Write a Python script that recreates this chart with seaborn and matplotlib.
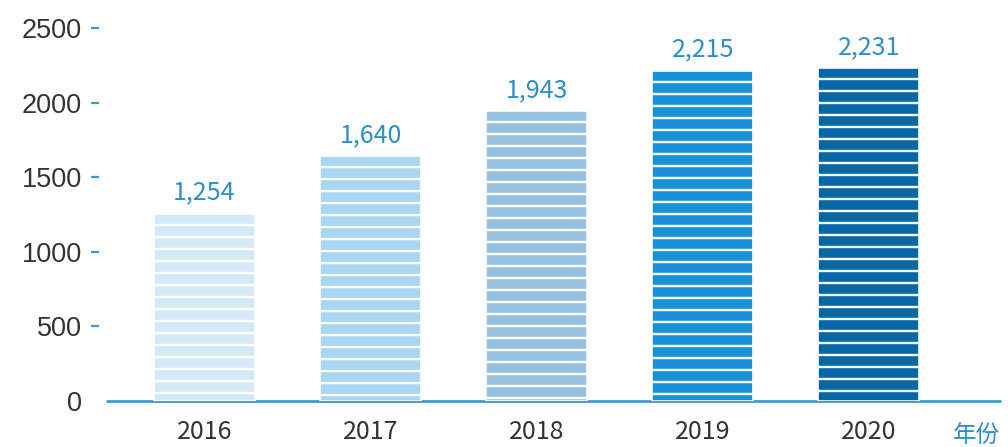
import pandas as pd
import matplotlib.pyplot as plt
import seaborn as sns

years = ["2016", "2017", "2018", "2019", "2020"]
values = [1254, 1640, 1943, 2215, 2231]
value_labels = ["1,254", "1,640", "1,943", "2,215", "2,231"]
bar_colors = ["#d5eaf8", "#a9d6f3", "#97c3e0", "#1790d7", "#0668a7"]
y_ticks = [0, 500, 1000, 1500, 2000, 2500]

df = pd.DataFrame({"year": years, "value": values})

sns.set_theme(style="white")
plt.rcParams["font.family"] = ["Noto Sans CJK SC", "DejaVu Sans"]

blue = "#3d9bd1"
label_blue = "#2c8fca"

fig = plt.figure(figsize=(10.08, 4.47), dpi=100)
ax = fig.add_axes([107 / 1008, 46 / 447, 893 / 1008, 373 / 447])

sns.barplot(data=df, x="year", y="value", hue="year", palette=bar_colors,
            legend=False, width=0.61, saturation=1, edgecolor="white",
            linewidth=1.2, ax=ax, zorder=3)

ax.set_ylim(0, 2500)
ax.set_xlim(-0.587, 4.79)
ax.set_yticks(y_ticks)
ax.set(xlabel="", ylabel="")

# white horizontal stripes, every 12px from the bar top
height_px = ax.get_position().height * fig.get_figheight() * fig.dpi
unit = 2500 / height_px
for p in ax.patches:
    x0, w, top = p.get_x(), p.get_width(), p.get_height()
    y = top - 11 * unit
    while y > 1 * unit:
        ax.hlines(y, x0, x0 + w, color="white", lw=1.7, zorder=4)
        y -= 12 * unit

# baseline
ax.axhline(0, color=blue, lw=2, zorder=2, clip_on=False)

for s in ax.spines.values():
    s.set_visible(False)
ax.spines["left"].set_position(("outward", 6))

ax.tick_params(axis="y", left=True, length=6, width=1.6, color=blue, pad=6,
               labelsize=19.5, labelcolor="#333333")
ax.yaxis.get_major_ticks()[0].tick1line.set_visible(False)
for t in ax.get_yticklabels():
    t.set_fontfamily("Liberation Sans")

ax.tick_params(axis="x", bottom=False, length=0, pad=13, labelsize=18,
               labelcolor="#333333")

for cont, lab in zip(ax.containers, value_labels):
    ax.bar_label(cont, labels=[lab], padding=6, color=label_blue, fontsize=18)

fig.text(977 / 1008, 1 - 435 / 447, "年份", ha="center", va="center",
         color=label_blue, fontsize=17)

fig.savefig("out.png", dpi=100)
